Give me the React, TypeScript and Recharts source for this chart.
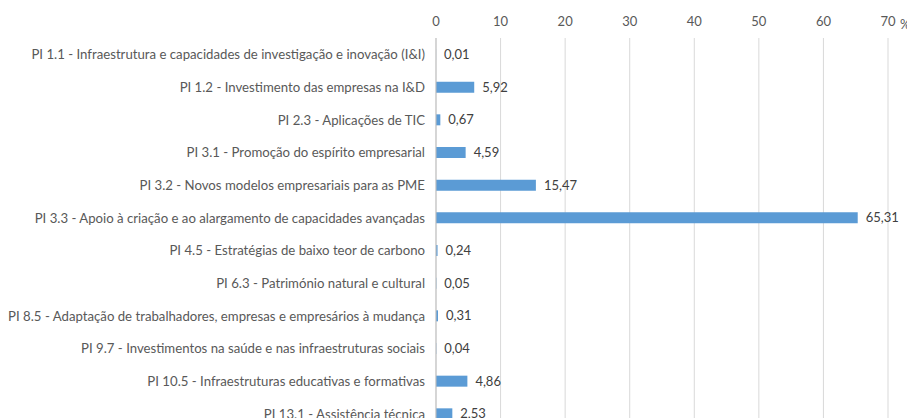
import { BarChart, Bar, XAxis, YAxis, CartesianGrid, LabelList, Label } from 'recharts'

const categories = [
  'PI 1.1 - Infraestrutura e capacidades de investigação e inovação (I&I)',
  'PI 1.2 - Investimento das empresas na I&D',
  'PI 2.3 - Aplicações de TIC',
  'PI 3.1 - Promoção do espírito empresarial',
  'PI 3.2 - Novos modelos empresariais para as PME',
  'PI 3.3 - Apoio à criação e ao alargamento de capacidades avançadas',
  'PI 4.5 - Estratégias de baixo teor de carbono',
  'PI 6.3 - Património natural e cultural',
  'PI 8.5 - Adaptação de trabalhadores, empresas e empresários à mudança',
  'PI 9.7 - Investimentos na saúde e nas infraestruturas sociais',
  'PI 10.5 - Infraestruturas educativas e formativas',
  'PI 13.1 - Assistência técnica',
]

const shares = [0.01, 5.92, 0.67, 4.59, 15.47, 65.31, 0.24, 0.05, 0.31, 0.04, 4.86, 2.53]

const xTicks = [0, 10, 20, 30, 40, 50, 60, 70]

const data = categories.map((name, i) => ({ name, value: shares[i] }))

const font = 'Lato, "Open Sans", sans-serif'
const textColor = '#595959'

// single-line category label, no wrapping
function CategoryTick(props: any) {
  const { x, y, payload } = props
  return (
    <text x={x} y={y} textAnchor="end" dominantBaseline="central" fill={textColor} fontSize={13.2} fontFamily={font}>
      {payload.value}
    </text>
  )
}

export default function App() {
  return (
    <div style={{ fontFamily: font }}>
      <BarChart
        width={907}
        height={432}
        data={data}
        layout="vertical"
        margin={{ top: 0, right: 27, bottom: 10, left: 0 }}
        barSize={11}
      >
        <CartesianGrid horizontal={false} stroke="#D9D9D9" />
        <XAxis
          type="number"
          orientation="top"
          domain={[0, 70]}
          ticks={xTicks}
          height={30}
          axisLine={false}
          tickLine={false}
          tickSize={0}
          tickMargin={12}
          tick={{ fill: textColor, fontSize: 13, fontFamily: font }}
        >
          <Label value="%" position="right" offset={12} dy={1} fill={textColor} fontSize={13} fontFamily={font} />
        </XAxis>
        <YAxis
          type="category"
          dataKey="name"
          width={428}
          axisLine={{ stroke: '#BFBFBF' }}
          tickLine={false}
          tickSize={0}
          tickMargin={11}
          interval={0}
          tick={<CategoryTick />}
        />
        <Bar dataKey="value" fill="#5B9BD5" isAnimationActive={false}>
          <LabelList
            dataKey="value"
            position="right"
            offset={8}
            fill="#404040"
            fontSize={13}
            fontFamily={font}
            formatter={(v: number) => v.toFixed(2).replace('.', ',')}
          />
        </Bar>
      </BarChart>
    </div>
  )
}
